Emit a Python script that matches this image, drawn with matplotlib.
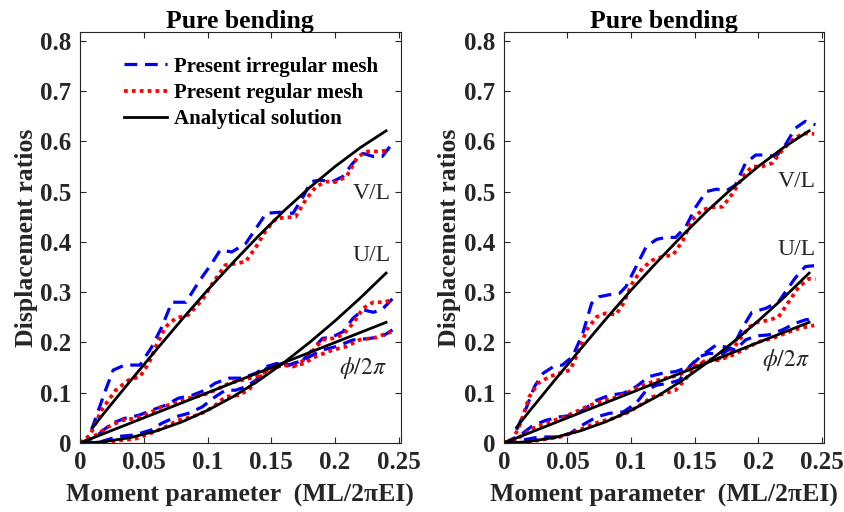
import numpy as np
import matplotlib
matplotlib.use('Agg')
import matplotlib.pyplot as plt

plt.rcParams['font.family'] = ['Liberation Serif', 'DejaVu Serif']
plt.rcParams['mathtext.fontset'] = 'stix'

# Analytical solution
ana_x = [0.0, 0.01, 0.02, 0.04, 0.06, 0.08, 0.10, 0.12, 0.14, 0.16, 0.18, 0.20, 0.22, 0.24]
ana_vl = [None, 0.031, 0.063, 0.125, 0.186, 0.246, 0.304, 0.359, 0.412, 0.462, 0.508, 0.550, 0.588, 0.621]
ana_ul = [0.0, 0.001, 0.003, 0.011, 0.024, 0.042, 0.065, 0.092, 0.124, 0.160, 0.200, 0.243, 0.289, 0.338]
ana_phi = [0.0, 0.01, 0.02, 0.04, 0.06, 0.08, 0.10, 0.12, 0.14, 0.16, 0.18, 0.20, 0.22, 0.24]

# ---- left panel ----
L_vl_irr_x = [0.009, 0.020, 0.026, 0.035, 0.047, 0.056, 0.064, 0.072, 0.077, 0.083, 0.093, 0.104, 0.110, 0.119,
              0.130, 0.138, 0.146, 0.156, 0.167, 0.175, 0.181, 0.188, 0.198, 0.206, 0.214, 0.222, 0.230, 0.237, 0.245]
L_vl_irr_y = [0.026, 0.105, 0.145, 0.155, 0.155, 0.190, 0.230, 0.280, 0.280, 0.280, 0.320, 0.360, 0.384, 0.380,
              0.397, 0.427, 0.457, 0.459, 0.457, 0.490, 0.520, 0.523, 0.520, 0.530, 0.557, 0.576, 0.570, 0.570, 0.596]
L_vl_reg_x = [0.000, 0.008, 0.017, 0.028, 0.038, 0.047, 0.054, 0.060, 0.067, 0.075, 0.085, 0.096, 0.104, 0.114,
              0.122, 0.130, 0.138, 0.146, 0.154, 0.164, 0.169, 0.177, 0.185, 0.193, 0.200, 0.209, 0.217, 0.224,
              0.235, 0.243]
L_vl_reg_y = [0.000, 0.016, 0.066, 0.105, 0.125, 0.132, 0.159, 0.195, 0.231, 0.248, 0.255, 0.285, 0.318, 0.354,
              0.357, 0.361, 0.390, 0.424, 0.447, 0.449, 0.450, 0.484, 0.510, 0.520, 0.519, 0.530, 0.567, 0.580,
              0.580, 0.583]
L_ul_irr_x = [0.000, 0.017, 0.030, 0.043, 0.056, 0.064, 0.075, 0.085, 0.096, 0.106, 0.114, 0.122, 0.130, 0.138,
              0.146, 0.156, 0.164, 0.175, 0.182, 0.190, 0.198, 0.206, 0.214, 0.222, 0.230, 0.237, 0.245]
L_ul_irr_y = [0.000, 0.003, 0.013, 0.016, 0.026, 0.039, 0.052, 0.059, 0.072, 0.092, 0.105, 0.105, 0.112, 0.125,
              0.148, 0.158, 0.155, 0.165, 0.185, 0.208, 0.211, 0.221, 0.248, 0.265, 0.260, 0.266, 0.287]
L_ul_reg_x = [0.000, 0.017, 0.030, 0.043, 0.056, 0.067, 0.077, 0.088, 0.098, 0.106, 0.114, 0.124, 0.132, 0.140,
              0.148, 0.159, 0.167, 0.174, 0.182, 0.190, 0.198, 0.206, 0.214, 0.222, 0.230, 0.238, 0.244]
L_ul_reg_y = [0.000, 0.000, 0.005, 0.008, 0.020, 0.032, 0.045, 0.052, 0.062, 0.075, 0.092, 0.095, 0.105, 0.128,
              0.148, 0.158, 0.152, 0.162, 0.182, 0.205, 0.208, 0.215, 0.238, 0.268, 0.280, 0.280, 0.284]
L_phi_irr_x = [0.000, 0.012, 0.025, 0.035, 0.046, 0.056, 0.067, 0.077, 0.088, 0.098, 0.106, 0.117, 0.127, 0.138,
               0.146, 0.154, 0.164, 0.175, 0.190, 0.201, 0.214, 0.227, 0.237, 0.245]
L_phi_irr_y = [0.000, 0.012, 0.039, 0.049, 0.055, 0.065, 0.075, 0.089, 0.095, 0.105, 0.119, 0.129, 0.129, 0.139,
               0.152, 0.158, 0.155, 0.165, 0.185, 0.192, 0.205, 0.208, 0.212, 0.225]
L_phi_reg_x = [0.000, 0.012, 0.022, 0.033, 0.043, 0.054, 0.064, 0.075, 0.085, 0.096, 0.106, 0.117, 0.127, 0.138,
               0.148, 0.159, 0.167, 0.175, 0.185, 0.198, 0.209, 0.219, 0.232, 0.244]
L_phi_reg_y = [0.000, 0.015, 0.032, 0.045, 0.049, 0.059, 0.072, 0.079, 0.089, 0.095, 0.105, 0.119, 0.125, 0.132,
               0.145, 0.155, 0.152, 0.158, 0.172, 0.185, 0.192, 0.205, 0.210, 0.221]

# ---- right panel ----
R_vl_irr_x = [0.010, 0.018, 0.024, 0.031, 0.039, 0.046, 0.054, 0.062, 0.069, 0.075, 0.083, 0.091, 0.096, 0.104,
              0.112, 0.120, 0.127, 0.135, 0.143, 0.151, 0.159, 0.167, 0.175, 0.182, 0.190, 0.198, 0.206, 0.214,
              0.222, 0.229, 0.237, 0.245]
R_vl_irr_y = [0.026, 0.072, 0.112, 0.139, 0.152, 0.155, 0.172, 0.218, 0.278, 0.291, 0.295, 0.298, 0.311, 0.351,
              0.391, 0.405, 0.409, 0.409, 0.430, 0.470, 0.500, 0.505, 0.502, 0.513, 0.557, 0.573, 0.573, 0.570,
              0.596, 0.626, 0.640, 0.633]
R_vl_reg_x = [0.000, 0.007, 0.013, 0.020, 0.027, 0.036, 0.044, 0.052, 0.058, 0.065, 0.073, 0.080, 0.088, 0.094,
              0.101, 0.109, 0.117, 0.125, 0.133, 0.141, 0.148, 0.156, 0.164, 0.172, 0.180, 0.188, 0.195, 0.203,
              0.211, 0.219, 0.227, 0.235, 0.244]
R_vl_reg_y = [0.000, 0.006, 0.039, 0.092, 0.119, 0.132, 0.139, 0.145, 0.178, 0.225, 0.251, 0.258, 0.255, 0.278,
              0.318, 0.348, 0.364, 0.371, 0.374, 0.404, 0.444, 0.464, 0.469, 0.470, 0.497, 0.530, 0.550, 0.550,
              0.557, 0.583, 0.603, 0.616, 0.615]
R_ul_irr_x = [0.000, 0.015, 0.028, 0.041, 0.052, 0.062, 0.073, 0.083, 0.094, 0.104, 0.112, 0.120, 0.130, 0.138,
              0.146, 0.154, 0.161, 0.172, 0.180, 0.188, 0.195, 0.206, 0.216, 0.229, 0.237, 0.245]
R_ul_irr_y = [0.000, 0.006, 0.012, 0.012, 0.019, 0.036, 0.052, 0.059, 0.062, 0.079, 0.105, 0.115, 0.119, 0.125,
              0.152, 0.172, 0.178, 0.178, 0.191, 0.231, 0.260, 0.268, 0.281, 0.328, 0.351, 0.353]
R_ul_reg_x = [0.000, 0.015, 0.031, 0.044, 0.054, 0.065, 0.075, 0.086, 0.096, 0.107, 0.117, 0.127, 0.135, 0.143,
              0.151, 0.159, 0.169, 0.177, 0.185, 0.193, 0.200, 0.208, 0.216, 0.224, 0.232, 0.240, 0.245]
R_ul_reg_y = [0.000, 0.000, 0.007, 0.012, 0.020, 0.032, 0.042, 0.049, 0.059, 0.075, 0.092, 0.099, 0.105, 0.128,
              0.152, 0.165, 0.168, 0.175, 0.205, 0.231, 0.241, 0.244, 0.251, 0.281, 0.311, 0.327, 0.326]
R_phi_irr_x = [0.000, 0.0125, 0.023, 0.033, 0.044, 0.054, 0.062, 0.073, 0.083, 0.094, 0.104, 0.114, 0.125, 0.135,
               0.146, 0.156, 0.167, 0.174, 0.182, 0.190, 0.198, 0.208, 0.219, 0.229, 0.237, 0.245]
R_phi_irr_y = [0.000, 0.015, 0.035, 0.045, 0.052, 0.055, 0.065, 0.085, 0.095, 0.099, 0.112, 0.132, 0.139, 0.142,
               0.152, 0.175, 0.195, 0.191, 0.185, 0.205, 0.213, 0.215, 0.225, 0.238, 0.245, 0.248]
R_phi_reg_x = [0.000, 0.0125, 0.023, 0.033, 0.044, 0.054, 0.065, 0.075, 0.086, 0.096, 0.107, 0.117, 0.127, 0.138,
               0.148, 0.159, 0.169, 0.180, 0.190, 0.200, 0.211, 0.221, 0.232, 0.244]
R_phi_reg_y = [0.000, 0.012, 0.029, 0.039, 0.049, 0.059, 0.072, 0.082, 0.089, 0.099, 0.112, 0.122, 0.129, 0.135,
               0.152, 0.162, 0.165, 0.175, 0.188, 0.201, 0.208, 0.218, 0.228, 0.234]

x_ticks = [0, 0.05, 0.1, 0.15, 0.2, 0.25]
x_tick_labels = ['0', '0.05', '0.1', '0.15', '0.2', '0.25']
y_ticks = [0, 0.1, 0.2, 0.3, 0.4, 0.5, 0.6, 0.7, 0.8]
y_tick_labels = ['0', '0.1', '0.2', '0.3', '0.4', '0.5', '0.6', '0.7', '0.8']

panels = [
    dict(vl=(L_vl_irr_x, L_vl_irr_y, L_vl_reg_x, L_vl_reg_y),
         ul=(L_ul_irr_x, L_ul_irr_y, L_ul_reg_x, L_ul_reg_y),
         phi=(L_phi_irr_x, L_phi_irr_y, L_phi_reg_x, L_phi_reg_y),
         labels=[(0.229, 0.497), (0.229, 0.374), (0.222, 0.149)], legend=True),
    dict(vl=(R_vl_irr_x, R_vl_irr_y, R_vl_reg_x, R_vl_reg_y),
         ul=(R_ul_irr_x, R_ul_irr_y, R_ul_reg_x, R_ul_reg_y),
         phi=(R_phi_irr_x, R_phi_irr_y, R_phi_reg_x, R_phi_reg_y),
         labels=[(0.230, 0.520), (0.230, 0.384), (0.222, 0.165)], legend=False),
]

fig = plt.figure(figsize=(8.44, 5.12), dpi=100)
axes_pos = [[0.0948, 0.1348, 0.380, 0.803], [0.597, 0.1348, 0.379, 0.803]]
tick_color = '#262626'

for pos, p in zip(axes_pos, panels):
    ax = fig.add_axes(pos)
    first = True
    for key in ['vl', 'ul', 'phi']:
        ix, iy, rx, ry = p[key]
        ax.plot(ix, iy, color='blue', lw=2.3, linestyle=(0, (4.0, 2.4)),
                label='Present irregular mesh' if first else None)
        ax.plot(rx, ry, color='red', lw=2.7, linestyle=(0, (1.0, 1.1)),
                label='Present regular mesh' if first else None)
        first = False
    vx = [x for x, v in zip(ana_x, ana_vl) if v is not None]
    vy = [v for v in ana_vl if v is not None]
    ax.plot(vx, vy, color='black', lw=2.0, label='Analytical solution')
    ax.plot(ana_x, ana_ul, color='black', lw=2.0)
    ax.plot(ana_x, ana_phi, color='black', lw=2.0)

    (x1, y1), (x2, y2), (x3, y3) = p['labels']
    ax.text(x1, y1, 'V/L', fontsize=17, ha='center', va='center', color='#262626')
    ax.text(x2, y2, 'U/L', fontsize=17, ha='center', va='center', color='#262626')
    ax.text(x3, y3, r'$\phi/2\pi$', fontsize=17, ha='center', va='center', color='#262626')

    ax.set_xlim(0, 0.2515)
    ax.set_ylim(0, 0.818)
    ax.set_xticks(x_ticks)
    ax.set_xticklabels(x_tick_labels)
    ax.set_yticks(y_ticks)
    ax.set_yticklabels(y_tick_labels)
    ax.tick_params(direction='in', top=True, right=True, length=4, width=0.8,
                   labelsize=18, colors=tick_color, pad=6)
    for lab in ax.get_xticklabels() + ax.get_yticklabels():
        lab.set_fontweight('bold')
    for s in ax.spines.values():
        s.set_color('#262626')
        s.set_linewidth(0.8)
    ax.set_title('Pure bending', fontsize=18.5, fontweight='bold', pad=3)
    ax.set_xlabel('Moment parameter  (ML/2\u03c0EI)', fontsize=18.5, fontweight='bold', color=tick_color, labelpad=7)
    ax.set_ylabel('Displacement ratios', fontsize=18.5, fontweight='bold', color=tick_color, labelpad=2)
    if p['legend']:
        ax.legend(loc='upper left', bbox_to_anchor=(0.11, 0.96), frameon=False,
                  prop={'weight': 'bold', 'size': 15}, handlelength=2.1, handletextpad=0.3,
                  labelspacing=0.3, borderaxespad=0)

fig.savefig('out.png', dpi=100)
